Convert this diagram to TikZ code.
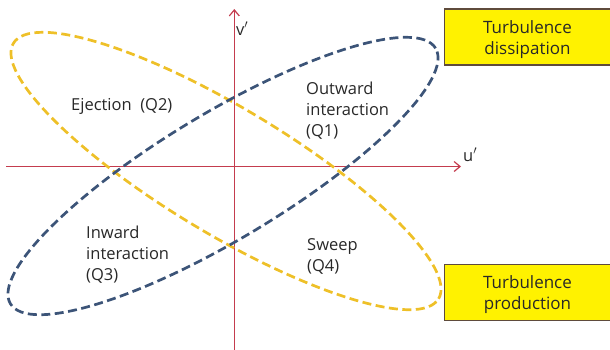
\documentclass[tikz,border=0pt]{standalone}
\usepackage{fontspec}
\setmainfont{Open Sans}
\usetikzlibrary{arrows.meta}
\definecolor{axisred}{RGB}{196,60,78}
\definecolor{ygold}{RGB}{238,192,40}
\definecolor{bslate}{RGB}{60,84,120}
\definecolor{boxline}{RGB}{95,75,60}
\definecolor{txt}{RGB}{40,40,40}
\tikzset{
  axisline/.style={draw=axisred, line width=1.3pt, -{Straight Barb[length=6pt,width=10pt,line width=1.2pt]}},
  ellyel/.style={draw=ygold, line width=2.7pt, dash pattern=on 9pt off 4.5pt},
  ellblu/.style={draw=bslate, line width=2.7pt, dash pattern=on 9pt off 4.5pt},
  lbl/.style={text=txt, font=\fontsize{16.5}{21}\selectfont, align=left, inner sep=0pt},
  tbox/.style={draw=boxline, line width=1.5pt, fill=yellow, text=txt,
    font=\fontsize{17}{21}\selectfont, align=center, minimum width=166pt, minimum height=56pt, inner sep=0pt},
}
\begin{document}
\begin{tikzpicture}[x=1pt,y=-1pt]
\useasboundingbox (0,0) rectangle (610,349);
% axes
\coordinate (ustart) at (6,166.5);
\coordinate (uend) at (461,166.5);
\coordinate (vstart) at (234.3,352);
\coordinate (vend) at (234.3,9);
\draw[axisline] (ustart) -- (uend);
\draw[axisline] (vstart) -- (vend);
% ellipses
\coordinate (yc) at (226,171);
\coordinate (bc) at (223,176);
\draw[ellyel, rotate around={-31:(yc)}] (yc) ellipse [x radius=248pt, y radius=63pt];
\draw[ellblu, rotate around={31:(bc)}] (bc) ellipse [x radius=248pt, y radius=63pt];
% axis labels
\node[lbl, anchor=base west] (vlab) at (236,35) {v$'$};
\node[lbl, anchor=base west] (ulab) at (463,161) {u$'$};
% quadrant labels (anchor at baseline of last line)
\node[lbl, anchor=base west] (q2) at (71,110) {Ejection\ \ (Q2)};
\node[lbl, anchor=base west] (q1) at (306,136) {Outward\\interaction\\(Q1)};
\node[lbl, anchor=base west] (q3) at (86,280) {Inward\\interaction\\(Q3)};
\node[lbl, anchor=base west] (q4) at (307,271) {Sweep\\(Q4)};
% boxes
\node[tbox] (diss) at (527.5,37) {};
\node[lbl, font=\fontsize{17}{21}\selectfont, align=center, anchor=base] (disst) at (527.5,54) {Turbulence\\dissipation};
\node[tbox] (prod) at (527.5,292.5) {};
\node[lbl, font=\fontsize{17}{21}\selectfont, align=center, anchor=base] (prodt) at (527.5,309) {Turbulence\\production};
\end{tikzpicture}
\end{document}
